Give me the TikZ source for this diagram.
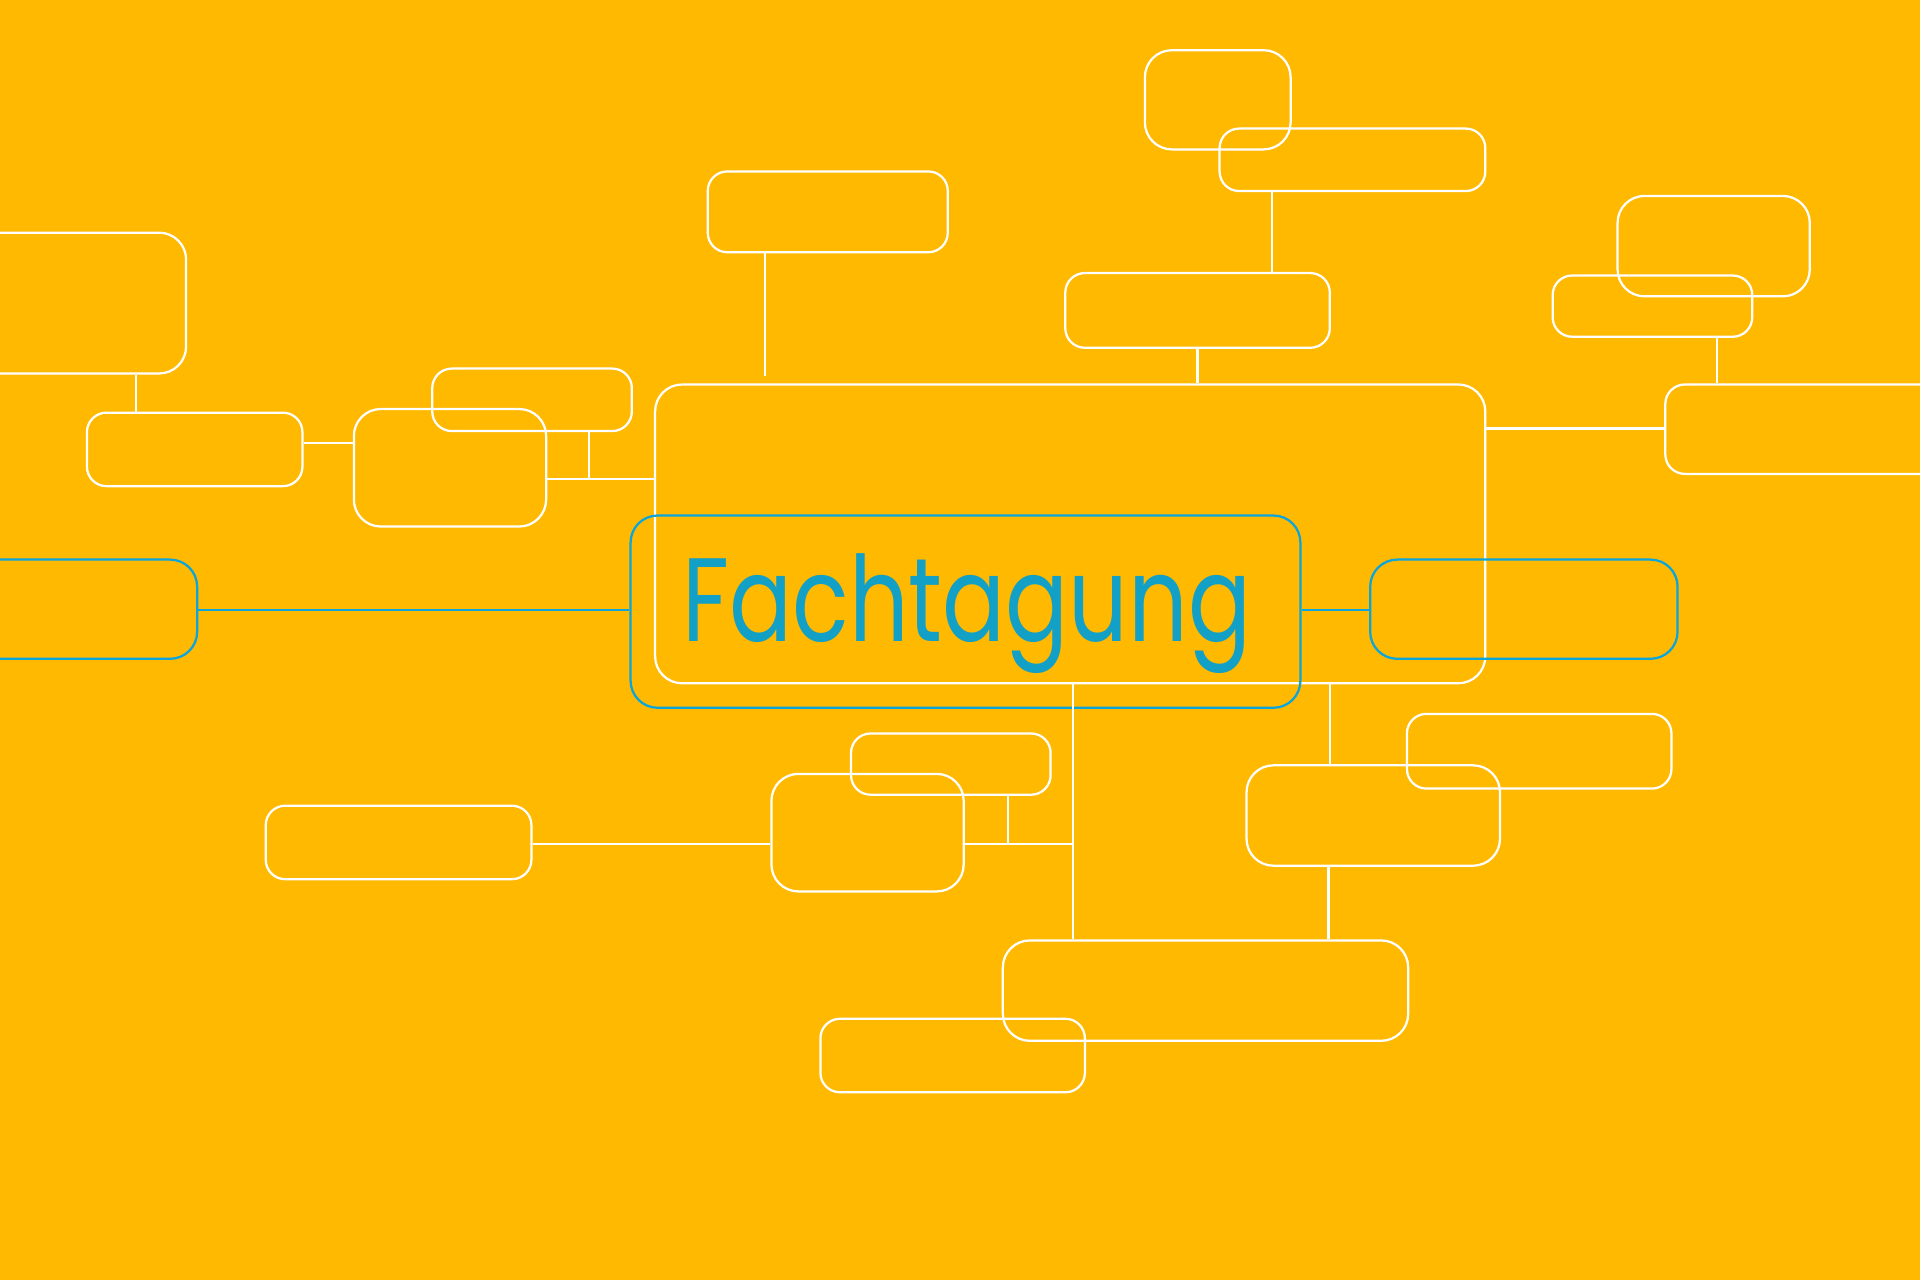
\documentclass[tikz,border=0pt]{standalone}
\usepackage{fontspec}
\newfontfamily\tagfont[FakeStretch=0.785]{Poppins}
\usetikzlibrary{fit}
\definecolor{bgyellow}{RGB}{255,185,0}
\definecolor{tagblue}{RGB}{18,160,198}
\definecolor{lineblue}{RGB}{10,165,220}

\begin{document}
\begin{tikzpicture}[x=0.4898pt,y=-0.4898pt,
  box/.style={draw=white,line width=0.9pt,rounded corners=7.8pt,inner sep=0pt},
  bigbox/.style={box,rounded corners=10.8pt},
  bluebox/.style={bigbox,draw=lineblue},
  link/.style={draw=white,line width=0.9pt},
  bluelink/.style={draw=lineblue,line width=0.9pt}]
  \fill[bgyellow] (0,0) rectangle (1568,1045);
  \useasboundingbox (0,0) rectangle (1568,1045);
  % centre part of the Figure
  \node[bigbox,fit={(535,314) (1213,558)}]  (main) {};
  \node[bluebox,fit={(515,421) (1062,578)}] (tag)  {};
  \node[tagblue,anchor=base west,inner sep=0pt] (title) at (557,524)
    {\tagfont\fontsize{47.5}{47.5}\selectfont Fachtagung};
  \node[bluebox,fit={(-60,457) (161,538)}]   (bleft)  {};
  \node[bluebox,fit={(1119,457) (1370,538)}] (bright) {};
  % left-hand side part of the Figure
  \node[bigbox,fit={(-60,190) (152,305)}] (tl) {};
  \node[box,fit={(71,337) (247,397)}]     (la) {};
  \node[bigbox,fit={(289,334) (446,430)}] (lb) {};
  \node[box,fit={(353,301) (516,352)}]    (lc) {};
  % top part
  \node[box,fit={(578,140) (774,206)}]    (td) {};
  \node[box,fit={(870,223) (1086,284)}]   (te) {};
  \node[bigbox,fit={(935,41) (1054,122)}] (tf) {};
  \node[box,fit={(996,105) (1213,156)}]   (tg) {};
  % right-hand side part
  \node[bigbox,fit={(1321,160) (1478,242)}] (rh) {};
  \node[box,fit={(1268,225) (1431,275)}]    (ri) {};
  \node[box,fit={(1360,314) (1640,387)}]    (rj) {};
  \node[box,fit={(1149,583) (1365,644)}]    (rk) {};
  \node[bigbox,fit={(1018,625) (1225,707)}] (rl) {};
  % bottom part
  \node[bigbox,fit={(819,768) (1150,850)}]  (bm) {};
  \node[box,fit={(670,832) (886,892)}]      (bn) {};
  \node[bigbox,fit={(630,632) (787,728)}]   (bo) {};
  \node[box,fit={(695,599) (858,649)}]      (bp) {};
  \node[box,fit={(217,658) (434,718)}]      (bq) {};
  \coordinate (jleft) at (481,391);
  \coordinate (jbot)  at (876,689);
  % connectors
  \draw[link] (tl.south -| 111,0) -- (la.north -| 111,0);
  \draw[link] (la.east |- 0,362) -- (lb.west |- 0,362);
  \draw[link] (lb.east |- jleft) -- (main.west |- jleft);
  \draw[link] (lc.south -| jleft) -- (jleft);
  \draw[link,shorten >=3] (td.south -| 625,0) -- (main.north -| 625,0);
  \draw[link] (te.south) -- (main.north -| te.south);
  \draw[link] (tg.south -| 1039,0) -- (te.north -| 1039,0);
  \draw[link] (main.east |- 0,350) -- (rj.west |- 0,350);
  \draw[link] (ri.south -| 1402,0) -- (rj.north -| 1402,0);
  \draw[link] (main.south -| jbot) -- (bm.north -| jbot);
  \draw[link] (bo.east |- jbot) -- (jbot);
  \draw[link] (bp.south -| 823,0) -- (823,0 |- jbot);
  \draw[link] (bq.east |- jbot) -- (bo.west |- jbot);
  \draw[link] (main.south -| 1086,0) -- (rl.north -| 1086,0);
  \draw[link] (rl.south -| 1085,0) -- (bm.north -| 1085,0);
  \draw[bluelink] (bleft.east |- 0,498) -- (tag.west |- 0,498);
  \draw[bluelink] (tag.east |- 0,498) -- (bright.west |- 0,498);
\end{tikzpicture}
\end{document}
